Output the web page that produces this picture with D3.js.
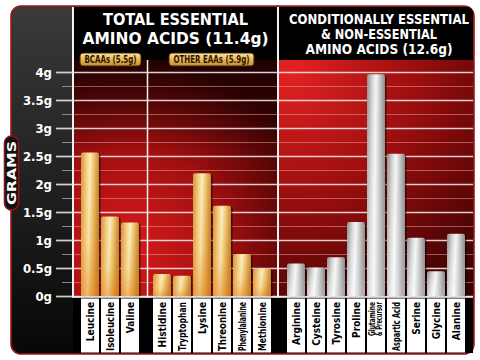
<!DOCTYPE html>
<html><head><meta charset="utf-8">
<script src="https://cdn.jsdelivr.net/npm/d3@7/dist/d3.min.js"></script>
<style>html,body{margin:0;padding:0;background:#fff;}svg{display:block;}</style>
</head><body>
<script>
// ---- data ----
const bcaaNames = ["Leucine","Isoleucine","Valine"];
const bcaaValues = [2.57,1.43,1.32];
const otherNames = ["Histidine","Tryptophan","Lysine","Threonine","Phenylalanine","Methionine"];
const otherValues = [0.40,0.37,2.20,1.62,0.76,0.50];
const nonNames = ["Arginine","Cysteine","Tyrosine","Proline","Glutamine & Precursor","Aspartic Acid","Serine","Glycine","Alanine"];
const nonValues = [0.59,0.52,0.70,1.33,3.97,2.55,1.05,0.45,1.12];
const tickValues = [0,0.5,1,1.5,2,2.5,3,3.5,4];
const tickLabels = ["0g","0.5g","1g","1.5g","2g","2.5g","3g","3.5g","4g"];
const minorValues = [0.25,0.75,1.25,1.75,2.25,2.75,3.25,3.75];
const leftTitle = ["TOTAL ESSENTIAL","AMINO ACIDS (11.4g)"];
const rightTitle = ["CONDITIONALLY ESSENTIAL","& NON-ESSENTIAL","AMINO ACIDS (12.6g)"];
const badges = ["BCAAs (5.5g)","OTHER EAAs (5.9g)"];
const yTitle = "GRAMS";

// ---- layout ----
const W=480,H=360;
const svg=d3.select("body").append("svg").attr("width",W).attr("height",H);
const defs=svg.append("defs");
const font="'DejaVu Sans Condensed','Liberation Sans',sans-serif";

const y=d3.scaleLinear().domain([0,4]).range([296.5,72.5]);
const xB=d3.scaleBand().domain(bcaaNames).range([80,140]).paddingInner(0.1).paddingOuter(0.05);
const xO=d3.scaleBand().domain(otherNames).range([152,272]).paddingInner(0.1).paddingOuter(0.05);
const xN=d3.scaleBand().domain(nonNames).range([286,466]).paddingInner(0.1).paddingOuter(0.05);

// gradients
const pg=defs.append("linearGradient").attr("id","panel").attr("x1",0).attr("y1",0).attr("x2",0).attr("y2",1);
pg.append("stop").attr("offset",0).attr("stop-color","#3a3a3a");
pg.append("stop").attr("offset",0.6).attr("stop-color","#1c1c1c");
pg.append("stop").attr("offset",1).attr("stop-color","#070707");

const rl=defs.append("radialGradient").attr("id","redL").attr("gradientUnits","userSpaceOnUse")
  .attr("cx",130).attr("cy",245).attr("r",190);
rl.append("stop").attr("offset",0).attr("stop-color","#d61a1a");
rl.append("stop").attr("offset",0.5).attr("stop-color","#a20f10");
rl.append("stop").attr("offset",1).attr("stop-color","#3a0202");
const rr=defs.append("radialGradient").attr("id","redR").attr("gradientUnits","userSpaceOnUse")
  .attr("cx",290).attr("cy",70).attr("r",280);
rr.append("stop").attr("offset",0).attr("stop-color","#e42222");
rr.append("stop").attr("offset",0.45).attr("stop-color","#9c0e0e");
rr.append("stop").attr("offset",1).attr("stop-color","#340101");
const topShade=defs.append("linearGradient").attr("id","topShade").attr("x1",0).attr("y1",0).attr("x2",0).attr("y2",1);
topShade.append("stop").attr("offset",0).attr("stop-color","#000").attr("stop-opacity",0.65);
topShade.append("stop").attr("offset",1).attr("stop-color","#000").attr("stop-opacity",0);

function hgrad(id,stops){
  const g=defs.append("linearGradient").attr("id",id).attr("x1",0).attr("y1",0).attr("x2",1).attr("y2",0.15);
  stops.forEach(s=>g.append("stop").attr("offset",s[0]).attr("stop-color",s[1]));
}
hgrad("gold",[[0,"#d3923a"],[0.3,"#f3cf82"],[0.5,"#fdf0c4"],[0.72,"#eec36c"],[1,"#c3862e"]]);
hgrad("silver",[[0,"#8e8e8e"],[0.3,"#d6d6d6"],[0.5,"#f6f6f6"],[0.72,"#c4c4c4"],[1,"#858585"]]);
const gb=defs.append("linearGradient").attr("id","goldBottom").attr("x1",0).attr("y1",0).attr("x2",0).attr("y2",1);
gb.append("stop").attr("offset",0).attr("stop-color","#e08a20").attr("stop-opacity",0);
gb.append("stop").attr("offset",0.6).attr("stop-color","#e08a20").attr("stop-opacity",0.15);
gb.append("stop").attr("offset",1).attr("stop-color","#e07a10").attr("stop-opacity",0.5);
const sb=defs.append("linearGradient").attr("id","silverBottom").attr("x1",0).attr("y1",0).attr("x2",0).attr("y2",1);
sb.append("stop").attr("offset",0).attr("stop-color","#fff").attr("stop-opacity",0);
sb.append("stop").attr("offset",1).attr("stop-color","#fff").attr("stop-opacity",0.35);
const badgeG=defs.append("linearGradient").attr("id","badge").attr("x1",0).attr("y1",0).attr("x2",0).attr("y2",1);
badgeG.append("stop").attr("offset",0).attr("stop-color","#fbe3a0");
badgeG.append("stop").attr("offset",0.5).attr("stop-color","#e9b85a");
badgeG.append("stop").attr("offset",1).attr("stop-color","#c98a2c");

// panel
svg.append("rect").attr("x",11).attr("y",6).attr("width",463).attr("height",348).attr("rx",10)
  .attr("fill","url(#panel)").attr("stroke","#a3161a").attr("stroke-width",1.6);

// header black
svg.append("rect").attr("x",73).attr("y",7).attr("width",396).attr("height",53).attr("fill","#000");
svg.append("path").attr("d","M469,7 h-2 v53 h6 V16 a9,9 0 0 0 -4,-9 z").attr("fill","#000");
// bottom black
svg.append("rect").attr("x",73).attr("y",297).attr("width",400).attr("height",56).attr("fill","#000");

// red sections
svg.append("rect").attr("x",73).attr("y",60).attr("width",205).attr("height",237).attr("fill","url(#redL)");
svg.append("rect").attr("x",73).attr("y",60).attr("width",205).attr("height",90).attr("fill","url(#topShade)").attr("opacity",0.7);
svg.append("rect").attr("x",278).attr("y",60).attr("width",195).attr("height",237).attr("fill","url(#redR)");

// gridlines
svg.append("g").selectAll("line").data(minorValues).join("line")
  .attr("x1",62).attr("x2",473).attr("y1",d=>y(d)).attr("y2",d=>y(d))
  .attr("stroke","#e59a9a").attr("stroke-opacity",0.55).attr("stroke-width",1);
svg.append("g").selectAll("line").data(tickValues).join("line")
  .attr("x1",56).attr("x2",473).attr("y1",d=>y(d)).attr("y2",d=>y(d))
  .attr("stroke","#f4e4e4").attr("stroke-opacity",0.9).attr("stroke-width",1.3);
svg.append("g").selectAll("line").data(tickValues).join("line")
  .attr("x1",56).attr("x2",72).attr("y1",d=>y(d)).attr("y2",d=>y(d))
  .attr("stroke","#d0d0d0").attr("stroke-width",1.3);
svg.append("g").selectAll("line").data(minorValues).join("line")
  .attr("x1",62).attr("x2",72).attr("y1",d=>y(d)).attr("y2",d=>y(d))
  .attr("stroke","#8a8a8a").attr("stroke-width",1);

// tick labels
svg.append("g").selectAll("text").data(tickValues).join("text")
  .attr("x",52).attr("y",d=>y(d)).attr("dy","0.36em").attr("text-anchor","end")
  .attr("font-family",font).attr("font-weight","bold").attr("font-size",13)
  .attr("fill","#fff").text((d,i)=>tickLabels[i]);

// bars
const maxLabel=49;
function fitText(sel,max){
  sel.each(function(){
    const len=this.getComputedTextLength();
    if(len>max) d3.select(this).attr("textLength",max).attr("lengthAdjust","spacingAndGlyphs");
  });
}
function drawBars(names,values,x,fill,over){
  const g=svg.append("g");
  const data=names.map((n,i)=>({n,v:values[i]}));
  g.selectAll("rect.sh").data(data).join("rect")
    .attr("x",d=>x(d.n)+1.5).attr("y",d=>y(d.v)+1).attr("width",x.bandwidth()).attr("height",d=>y(0)-y(d.v))
    .attr("rx",2).attr("fill","#000").attr("opacity",0.55);
  g.selectAll("rect.b").data(data).join("rect")
    .attr("x",d=>x(d.n)).attr("y",d=>y(d.v)).attr("width",x.bandwidth()).attr("height",d=>y(0)-y(d.v))
    .attr("rx",2).attr("fill",fill);
  g.selectAll("rect.o").data(data).join("rect")
    .attr("x",d=>x(d.n)).attr("y",d=>y(d.v)).attr("width",x.bandwidth()).attr("height",d=>y(0)-y(d.v))
    .attr("rx",2).attr("fill",over);
  g.selectAll("rect.l").data(data).join("rect")
    .attr("x",d=>x(d.n)).attr("y",298.5).attr("width",x.bandwidth()).attr("height",54)
    .attr("fill","#fff");
  g.selectAll("g.t").data(data).join("g")
    .attr("transform",d=>`translate(${x(d.n)+x.bandwidth()/2},302)`)
    .each(function(d){
      const parts=d.n.startsWith("Glutamine")?["Glutamine","& Precursor"]:[d.n];
      const s=d3.select(this);
      if(parts.length===1){
        const t=s.append("text").attr("transform","rotate(-90)").attr("x",0).attr("y",3.6)
          .attr("text-anchor","end").attr("font-family",font).attr("font-weight","bold")
          .attr("font-size",10).attr("fill","#000").text(parts[0]);
        fitText(t,maxLabel);
      } else {
        const t1=s.append("text").attr("transform","rotate(-90)").attr("x",0).attr("y",-1.2)
          .attr("text-anchor","end").attr("font-family",font).attr("font-weight","bold")
          .attr("font-size",8).attr("fill","#000").text(parts[0]);
        const t2=s.append("text").attr("transform","rotate(-90)").attr("x",0).attr("y",6.3)
          .attr("text-anchor","end").attr("font-family",font).attr("font-weight","bold")
          .attr("font-size",8).attr("fill","#000").text(parts[1]);
        fitText(t1,34); fitText(t2,34);
      }
    });
}
drawBars(bcaaNames,bcaaValues,xB,"url(#gold)","url(#goldBottom)");
drawBars(otherNames,otherValues,xO,"url(#gold)","url(#goldBottom)");
drawBars(nonNames,nonValues,xN,"url(#silver)","url(#silverBottom)");

// dividers
svg.append("line").attr("x1",73).attr("x2",73).attr("y1",7).attr("y2",297.5).attr("stroke","#f2f2f2").attr("stroke-width",2);
svg.append("line").attr("x1",278).attr("x2",278).attr("y1",7).attr("y2",297.5).attr("stroke","#f2f2f2").attr("stroke-width",2);
svg.append("line").attr("x1",147.5).attr("x2",147.5).attr("y1",60).attr("y2",297.5).attr("stroke","#f2f2f2").attr("stroke-width",1.5);
svg.append("line").attr("x1",72).attr("x2",473).attr("y1",297).attr("y2",297).attr("stroke","#f2f2f2").attr("stroke-width",1.5);

// titles
function title(lines,cx,baselines,size,widths){
  lines.forEach((t,i)=>{
    svg.append("text").attr("x",cx).attr("y",baselines[i]).attr("text-anchor","middle")
      .attr("font-family",font).attr("font-weight","bold").attr("font-size",size)
      .attr("fill","#fff").attr("textLength",widths[i]).attr("lengthAdjust","spacingAndGlyphs").text(t);
  });
}
title(leftTitle,175.5,[25,44],16.5,[145,186]);
title(rightTitle,379,[24,39,54],14.5,[180,116,147]);

// badges
const badgePos=[[80,61],[169,85]];
badges.forEach((b,i)=>{
  const [bx,bw]=badgePos[i];
  svg.append("rect").attr("x",bx).attr("y",53).attr("width",bw).attr("height",13).attr("rx",3)
    .attr("fill","url(#badge)").attr("stroke","#3a2400").attr("stroke-width",1);
  svg.append("text").attr("x",bx+bw/2).attr("y",63.3).attr("text-anchor","middle")
    .attr("font-family",font).attr("font-weight","bold").attr("font-size",10.5)
    .attr("fill","#2a1600").attr("textLength",bw-9).attr("lengthAdjust","spacingAndGlyphs").text(b);
});

// GRAMS pill
svg.append("rect").attr("x",4.5).attr("y",136).attr("width",14).attr("height",74).attr("rx",7)
  .attr("fill","#111").attr("stroke","#8e1414").attr("stroke-width",1.6);
svg.append("text").attr("transform","translate(16,173) rotate(-90)").attr("text-anchor","middle")
  .attr("font-family","'DejaVu Sans',sans-serif").attr("font-weight","bold").attr("font-size",12)
  .attr("fill","#fff").attr("textLength",64).attr("lengthAdjust","spacingAndGlyphs").text(yTitle);
</script>
</body></html>
